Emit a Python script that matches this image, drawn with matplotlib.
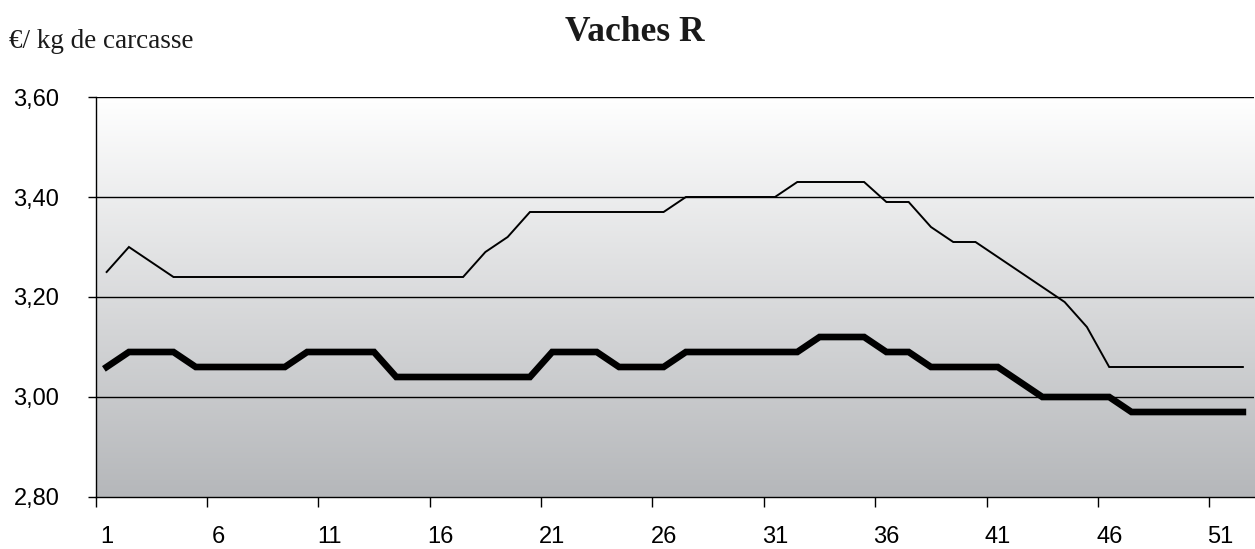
import numpy as np
import matplotlib
matplotlib.use("Agg")
import matplotlib.pyplot as plt
from matplotlib.ticker import FixedLocator, FuncFormatter

weeks = list(range(1, 53))
thin_series = [3.25, 3.30, 3.27] + [3.24] * 14 + [3.29, 3.32] + [3.37] * 7 + [3.40] * 5 + \
    [3.43] * 4 + [3.39, 3.39, 3.34, 3.31, 3.31, 3.28, 3.25, 3.22, 3.19, 3.14] + [3.06] * 7
thick_series = [3.06] + [3.09] * 3 + [3.06] * 5 + [3.09] * 4 + [3.04] * 7 + [3.09] * 3 + \
    [3.06] * 3 + [3.09] * 6 + [3.12] * 3 + [3.09] * 2 + [3.06] * 4 + [3.03] + [3.00] * 4 + [2.97] * 6
y_ticks = [2.80, 3.00, 3.20, 3.40, 3.60]
x_labels = [1, 6, 11, 16, 21, 26, 31, 36, 41, 46, 51]

W, H = 1255, 549
fig = plt.figure(figsize=(W / 100, H / 100), dpi=100)
ax = fig.add_axes([95.5 / W, 1 - 497 / H, (1254 - 95.5) / W, (497 - 97) / H])

ax.set_xlim(0.5, 52.5)
ax.set_ylim(2.80, 3.60)

# gradient background
grad = np.linspace(0, 1, 256).reshape(-1, 1)
top = np.array([1.0, 1.0, 1.0])
bot = np.array([0xb5, 0xb7, 0xba]) / 255
img = top[None, None, :] * (1 - grad[:, :, None]) + bot[None, None, :] * grad[:, :, None]
ax.imshow(img, extent=[0, 1, 0, 1], transform=ax.transAxes, aspect="auto", zorder=0)

for yv in y_ticks[1:]:
    ax.axhline(yv, color="black", lw=1.0, zorder=1)

ax.plot(weeks, thin_series, color="black", lw=1.4, zorder=3, solid_joinstyle="miter")
ax.plot(weeks, thick_series, color="black", lw=4.8, zorder=4, solid_joinstyle="miter")

for s in ["top", "right"]:
    ax.spines[s].set_visible(False)
ax.spines["left"].set_linewidth(1.0)
ax.spines["bottom"].set_linewidth(1.0)

ax.set_yticks(y_ticks)
ax.yaxis.set_major_formatter(FuncFormatter(lambda v, p: f"{v:.2f}".replace(".", ",")))
ax.tick_params(axis="y", length=6, width=1.0, pad=20, labelsize=17)
for lab in ax.get_yticklabels():
    lab.set_fontfamily("Liberation Sans")

ax.xaxis.set_major_locator(FixedLocator([b + 0.5 for b in range(0, 51, 5)]))
ax.xaxis.set_minor_locator(FixedLocator(x_labels))
ax.set_xticklabels([])
ax.set_xticklabels([str(v) for v in x_labels], minor=True)
ax.tick_params(axis="x", which="major", length=7, width=1.0)
ax.tick_params(axis="x", which="minor", length=0, pad=21, labelsize=17)
for lab in ax.get_xticklabels(minor=True):
    lab.set_fontfamily("Liberation Sans")

fig.text(635 / W, 1 - 41 / H, "Vaches R", ha="center", va="baseline",
         fontsize=25.5, fontweight="bold", fontfamily="Liberation Serif", color="#1a1a1a")
fig.text(9 / W, 1 - 48 / H, "€/ kg de carcasse", ha="left", va="baseline",
         fontsize=19.5, fontfamily="Liberation Serif", color="#1a1a1a")

fig.savefig("out.png", dpi=100)
